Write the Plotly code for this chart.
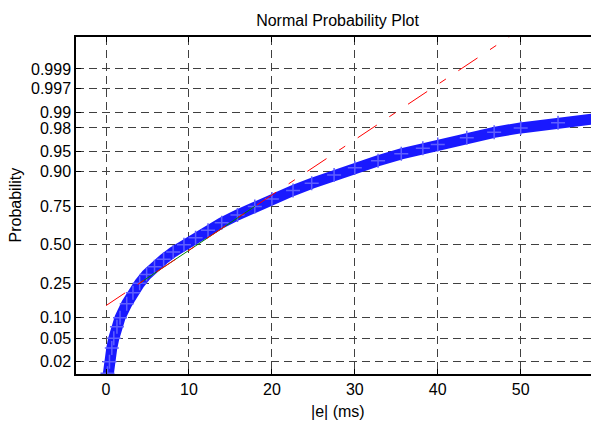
import plotly.graph_objects as go
from statistics import NormalDist

# Data: cumulative probability vs |e| (ms)
prob = [0.005, 0.012, 0.02, 0.035, 0.05, 0.075, 0.10, 0.15, 0.20, 0.25,
        0.30, 0.35, 0.40, 0.45, 0.50, 0.55, 0.60, 0.65, 0.70, 0.75,
        0.79, 0.83, 0.86, 0.89, 0.912, 0.93, 0.945, 0.955, 0.961, 0.97,
        0.976, 0.98, 0.984, 0.987, 0.99]
err_ms = [0.0, 0.18, 0.42, 0.70, 0.94, 1.32, 1.69, 2.50, 3.25, 4.06,
          4.90, 5.85, 6.95, 8.10, 9.40, 10.8, 12.3, 13.95, 15.85, 17.94,
          20.0, 22.55, 24.8, 27.5, 30.0, 32.8, 35.6, 38.2, 40.0, 43.5,
          46.8, 50.0, 54.5, 59.4, 65.0]

y_tick_probs = [0.02, 0.05, 0.10, 0.25, 0.50, 0.75, 0.90, 0.95, 0.98, 0.99, 0.997, 0.999]
y_tick_labels = ["0.02", "0.05", "0.10", "0.25", "0.50", "0.75", "0.90", "0.95",
                 "0.98", "0.99", "0.997", "0.999"]
x_ticks = [0, 10, 20, 30, 40, 50]

nd = NormalDist()
z = [nd.inv_cdf(p) for p in prob]
z_ticks = [nd.inv_cdf(p) for p in y_tick_probs]

# quartile line (as normplot does)
q1 = err_ms[prob.index(0.25)]
q3 = err_ms[prob.index(0.75)]
z1, z3 = nd.inv_cdf(0.25), nd.inv_cdf(0.75)
slope = (z3 - z1) / (q3 - q1)
xmin, xmax = min(err_ms), max(err_ms)
line_x = [xmin, xmax]
line_y = [z1 + (v - q1) * slope for v in line_x]

FONT = "Liberation Sans, Arial, Helvetica, sans-serif"

# the page body has an 8px margin; size the figure so the plot area lands where the reference has it
W, H = 591, 413
fig = go.Figure()
fig.add_trace(go.Scatter(
    x=err_ms, y=z, mode="lines+markers",
    line=dict(color="rgb(25,25,255)", width=11),
    marker=dict(symbol="cross-thin", size=10, line=dict(color="rgb(95,95,255)", width=1.5)),
    showlegend=False, hoverinfo="skip"))
fig.add_trace(go.Scatter(
    x=[q1, q3], y=[z1, z3], mode="lines",
    line=dict(color="rgb(0,128,0)", width=1),
    showlegend=False, hoverinfo="skip"))
fig.add_trace(go.Scatter(
    x=line_x, y=line_y, mode="lines",
    line=dict(color="rgb(255,0,0)", width=1, dash="23px,15px,7.5px,15px"),
    showlegend=False, hoverinfo="skip"))

fig.update_layout(
    width=W, height=H,
    margin=dict(l=68, r=0, t=29, b=47),
    paper_bgcolor="white", plot_bgcolor="white",
    font=dict(family=FONT, size=16, color="black"),
    title=dict(text="Normal Probability Plot", x=0.5, xref="paper", xanchor="center",
               y=1 - 12.5 / H, yref="container", yanchor="middle",
               font=dict(family=FONT, size=16, color="black")),
    xaxis=dict(range=[-3.617, 59.44], tickvals=x_ticks, ticktext=[str(v) for v in x_ticks],
               showline=True, linecolor="black", linewidth=1.5, mirror="ticks",
               ticks="inside", ticklen=5, tickcolor="black",
               showgrid=True, gridcolor="#404040", gridwidth=1, griddash="8px,5px",
               zeroline=False, tickfont=dict(family=FONT, size=16, color="black")),
    yaxis=dict(range=[-2.271, 3.652], tickvals=z_ticks, ticktext=y_tick_labels,
               showline=True, linecolor="black", linewidth=1.5, mirror=False,
               ticks="inside", ticklen=5, tickcolor="black",
               showgrid=True, gridcolor="#404040", gridwidth=1, griddash="8px,5px",
               zeroline=False, tickfont=dict(family=FONT, size=16, color="black")),
    annotations=[
        dict(text="|e| (ms)", x=0.5, xref="paper", y=-(411.7 - 374.3) / 337, yref="paper",
             xanchor="center", yanchor="middle", showarrow=False,
             font=dict(family=FONT, size=16, color="black")),
        dict(text="Probability", x=-(76 - 15) / 523, xref="paper", y=0.5, yref="paper",
             xanchor="center", yanchor="middle", textangle=-90, showarrow=False,
             font=dict(family=FONT, size=16, color="black")),
    ],
)

fig.write_html("out.html")
